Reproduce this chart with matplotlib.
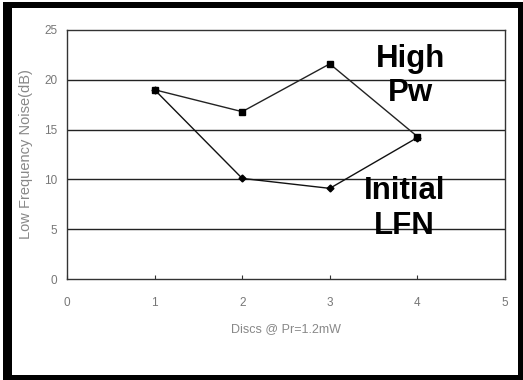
import matplotlib
matplotlib.use("Agg")
import matplotlib.pyplot as plt
from matplotlib.patches import Rectangle

discs = [1, 2, 3, 4]
high_pw = [19.0, 16.8, 21.6, 14.3]
initial_lfn = [19.0, 10.1, 9.1, 14.2]
xticks = [0, 1, 2, 3, 4, 5]
yticks = [0, 5, 10, 15, 20, 25]

plt.rcParams['font.family'] = ['Liberation Sans', 'DejaVu Sans']

fig = plt.figure(figsize=(5.23, 3.8), dpi=100)
fig.patch.set_facecolor('white')
W, H = 523, 380


def px_rect(x0, y0, x1, y1, color):
    return Rectangle((x0 / W, 1 - y1 / H), (x1 - x0) / W, (y1 - y0) / H,
                     transform=fig.transFigure, facecolor=color,
                     edgecolor='none', zorder=-10)


fig.patches.append(px_rect(3, 2, 530, 390, 'black'))
fig.patches.append(px_rect(12, 8, 518, 375, 'white'))

ax = fig.add_axes([67 / W, 1 - 279 / H, (505 - 67) / W, (279 - 30) / H])

for y in [5, 10, 15, 20]:
    ax.axhline(y, color='#222222', lw=1.0, zorder=1)

ax.plot(discs, high_pw, color='#222222', lw=1.0, marker='s', ms=4.5,
        mfc='black', mec='black', zorder=3)
ax.plot(discs, initial_lfn, color='#111111', lw=1.0, marker='D', ms=3.5,
        mfc='black', mec='black', zorder=3)

ax.set_xlim(0, 5)
ax.set_ylim(0, 25)
ax.set_xticks(xticks)
ax.set_yticks(yticks)
ax.tick_params(axis='x', direction='in', length=3, color='#333333',
               labelsize=8.5, labelcolor='#777777', pad=13)
ax.tick_params(axis='y', length=0, labelsize=8.5, labelcolor='#777777', pad=7)
for s in ax.spines.values():
    s.set_color('#333333')
    s.set_linewidth(1.0)

ax.set_xlabel('Discs @ Pr=1.2mW', fontsize=9, color='#888888', labelpad=10)
ax.set_ylabel('Low Frequency Noise(dB)', fontsize=10.5, color='#888888', labelpad=8)

ax.text(3.92, 20.4, 'High\nPw', fontsize=22.5, fontweight='bold', ha='center',
        va='center', linespacing=1.2, zorder=4)
ax.text(3.85, 7.1, 'Initial\nLFN', fontsize=22.5, fontweight='bold', ha='center',
        va='center', linespacing=1.2, zorder=4)

fig.savefig('out.png', dpi=100)
